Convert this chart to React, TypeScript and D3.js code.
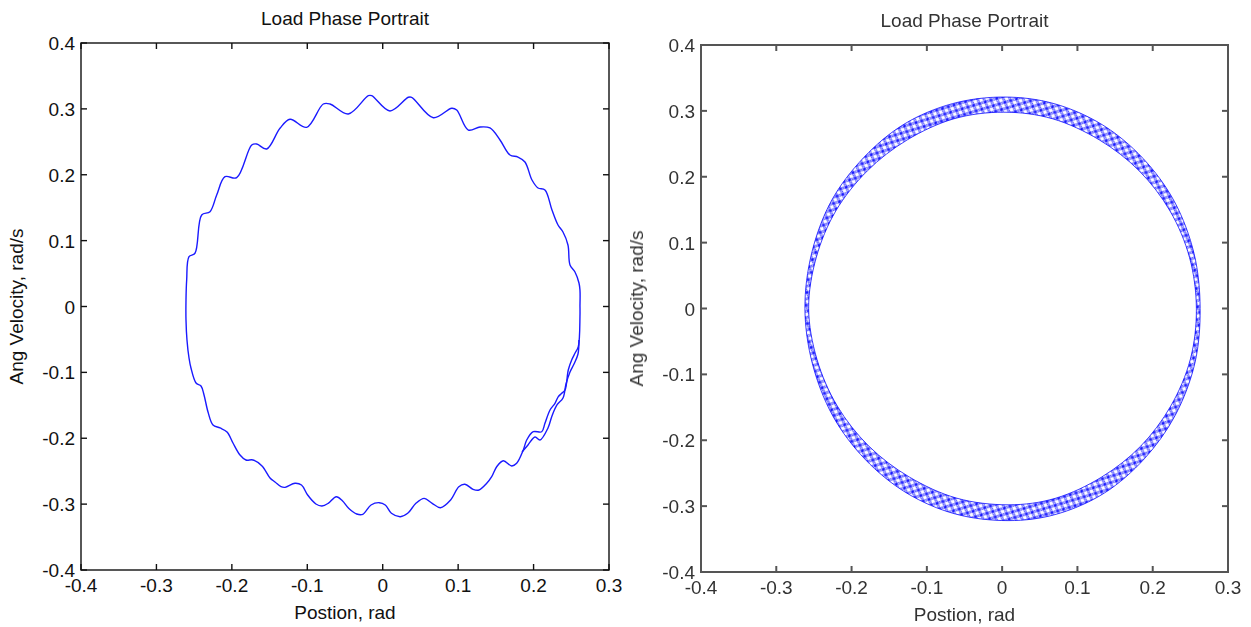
import React from "react";
import * as d3 from "d3";

// ---------- data ----------
const xTicks = [-0.4, -0.3, -0.2, -0.1, 0, 0.1, 0.2, 0.3];
const xTickLabels = ["-0.4", "-0.3", "-0.2", "-0.1", "0", "0.1", "0.2", "0.3"];
const yTicks = [-0.4, -0.3, -0.2, -0.1, 0, 0.1, 0.2, 0.3, 0.4];
const yTickLabels = ["-0.4", "-0.3", "-0.2", "-0.1", "0", "0.1", "0.2", "0.3", "0.4"];
const titleText = "Load Phase Portrait";
const xLabelText = "Postion, rad";
const yLabelText = "Ang Velocity, rad/s";

// left panel: single wiggly trajectory (position, velocity)
const leftTrace: [number, number][] = [
  [0.2615, 0.001], [0.2615, 0.025], [0.2602, 0.0357], [0.2549, 0.0524], [0.2483, 0.063],
  [0.2456, 0.0934], [0.239, 0.1131], [0.2324, 0.1237], [0.2244, 0.1465], [0.2151, 0.1769],
  [0.2059, 0.1799], [0.1979, 0.192], [0.1886, 0.2194], [0.1793, 0.2269], [0.1687, 0.23],
  [0.1555, 0.2528], [0.1422, 0.271], [0.129, 0.2725], [0.1135, 0.2679], [0.0981, 0.2983],
  [0.0915, 0.3009], [0.0671, 0.2866], [0.0384, 0.3176], [0.0339, 0.3176], [0.0096, 0.2968],
  [-0.0146, 0.32], [-0.0191, 0.32], [-0.0456, 0.2922], [-0.0699, 0.3074], [-0.0788, 0.3074],
  [-0.1008, 0.272], [-0.1229, 0.2842], [-0.1362, 0.2705], [-0.1538, 0.2391], [-0.1671, 0.2467],
  [-0.1737, 0.2452], [-0.1936, 0.1955], [-0.2091, 0.197], [-0.2201, 0.1693], [-0.229, 0.1439],
  [-0.24, 0.1389], [-0.2489, 0.0808], [-0.2568, 0.0756], [-0.2599, 0.0402], [-0.2608, 0.0099],
  [-0.2608, -0.0205], [-0.2595, -0.0509], [-0.2568, -0.0782], [-0.2542, -0.0934], [-0.2475, -0.1161],
  [-0.2409, -0.1207], [-0.2369, -0.1343], [-0.2316, -0.1602], [-0.225, -0.1799], [-0.2157, -0.1844],
  [-0.2064, -0.1905], [-0.1985, -0.2072], [-0.1892, -0.2254], [-0.1813, -0.233], [-0.172, -0.233],
  [-0.16, -0.2421], [-0.1494, -0.2603], [-0.1428, -0.2664], [-0.1348, -0.2735], [-0.1295, -0.2745],
  [-0.1163, -0.2684], [-0.1077, -0.271], [-0.0995, -0.2862], [-0.0886, -0.2998], [-0.0805, -0.3028],
  [-0.0723, -0.2988], [-0.0615, -0.2887], [-0.0535, -0.2948], [-0.0452, -0.3063], [-0.0345, -0.315],
  [-0.0264, -0.3155], [-0.0155, -0.3013], [-0.0047, -0.2978], [0.0034, -0.3013], [0.0115, -0.3139],
  [0.0234, -0.3191], [0.0331, -0.3139], [0.044, -0.2988], [0.0549, -0.2912], [0.0656, -0.2988],
  [0.0765, -0.3054], [0.09, -0.2937], [0.1009, -0.2735], [0.109, -0.2699], [0.1198, -0.2775],
  [0.1276, -0.2786], [0.1379, -0.2684], [0.1445, -0.2584], [0.1511, -0.2432], [0.1599, -0.2341],
  [0.171, -0.2421], [0.1776, -0.238], [0.1864, -0.2178], [0.1909, -0.2027], [0.1996, -0.1901],
  [0.2108, -0.1901], [0.2151, -0.1773], [0.2218, -0.1571], [0.2284, -0.1469], [0.2328, -0.1369],
  [0.2373, -0.1318], [0.2417, -0.1268], [0.246, -0.0964], [0.2505, -0.0812], [0.2549, -0.071],
  [0.2593, -0.061], [0.2615, -0.0155], [0.2615, 0.001],
];

// left panel: start-up pass overlapping the lower right arc
const leftTransient: [number, number][] = [
  [0.1847, -0.2209], [0.1926, -0.2102], [0.2019, -0.1981], [0.2085, -0.2027], [0.2191, -0.1844],
  [0.2244, -0.1662], [0.231, -0.1495], [0.239, -0.1389], [0.243, -0.1176], [0.2483, -0.0994],
  [0.2536, -0.0873], [0.2589, -0.0721], [0.2602, -0.0509],
];

// right panel: envelope of the braided band
const rightOuter: [number, number][] = [
  [0.263, 0], [0.255, 0.083], [0.229, 0.162], [0.187, 0.228], [0.133, 0.279], [0.069, 0.311],
  [0.002, 0.321], [-0.066, 0.311], [-0.13, 0.28], [-0.184, 0.229], [-0.227, 0.163], [-0.253, 0.084],
  [-0.262, 0], [-0.252, -0.084], [-0.225, -0.163], [-0.182, -0.229], [-0.127, -0.28], [-0.062, -0.312],
  [0.008, -0.322], [0.073, -0.312], [0.136, -0.28], [0.189, -0.228], [0.23, -0.162], [0.256, -0.083],
];
const rightInner: [number, number][] = [
  [0.258, 0], [0.249, 0.077], [0.223, 0.148], [0.182, 0.209], [0.129, 0.256], [0.067, 0.288],
  [0.002, 0.298], [-0.064, 0.288], [-0.126, 0.256], [-0.179, 0.209], [-0.221, 0.148], [-0.247, 0.077],
  [-0.257, 0], [-0.246, -0.077], [-0.219, -0.148], [-0.177, -0.209], [-0.123, -0.256], [-0.06, -0.288],
  [0.008, -0.298], [0.071, -0.288], [0.132, -0.256], [0.184, -0.209], [0.224, -0.148], [0.25, -0.077],
];

// ---------- layout ----------
const W = 1251;
const H = 627;
const FONT = "'Liberation Sans', Arial, Helvetica, sans-serif";
const FS = 19;

type Box = { x: number; y: number; w: number; h: number };

function Axes({ box, axisColor, textColor, axisWidth, children }: { box: Box; axisColor: string; textColor: string; axisWidth: number; children: (xs: d3.ScaleLinear<number, number>, ys: d3.ScaleLinear<number, number>) => React.ReactNode }) {
  const xs = d3.scaleLinear().domain([-0.4, 0.3]).range([box.x, box.x + box.w]);
  const ys = d3.scaleLinear().domain([-0.4, 0.4]).range([box.y + box.h, box.y]);
  const tl = 6;
  const cx = box.x + box.w / 2;
  const cy = box.y + box.h / 2;
  return (
    <g>
      <g>{children(xs, ys)}</g>
      <rect x={box.x} y={box.y} width={box.w} height={box.h} fill="none" stroke={axisColor} strokeWidth={axisWidth} />
      {xTicks.map((v, i) => (
        <g key={"xt" + i}>
          <line x1={xs(v)} x2={xs(v)} y1={box.y + box.h} y2={box.y + box.h - tl} stroke={axisColor} strokeWidth={axisWidth} />
          <line x1={xs(v)} x2={xs(v)} y1={box.y} y2={box.y + tl} stroke={axisColor} strokeWidth={axisWidth} />
          <text x={xs(v)} y={box.y + box.h + 22} textAnchor="middle" fontFamily={FONT} fontSize={FS} fill={textColor}>{xTickLabels[i]}</text>
        </g>
      ))}
      {yTicks.map((v, i) => (
        <g key={"yt" + i}>
          <line x1={box.x} x2={box.x + tl} y1={ys(v)} y2={ys(v)} stroke={axisColor} strokeWidth={axisWidth} />
          <line x1={box.x + box.w} x2={box.x + box.w - tl} y1={ys(v)} y2={ys(v)} stroke={axisColor} strokeWidth={axisWidth} />
          <text x={box.x - 6} y={ys(v) + 7} textAnchor="end" fontFamily={FONT} fontSize={FS} fill={textColor}>{yTickLabels[i]}</text>
        </g>
      ))}
      <text x={cx} y={box.y - 18} textAnchor="middle" fontFamily={FONT} fontSize={FS} fill={textColor}>{titleText}</text>
      <text x={cx} y={box.y + box.h + 49} textAnchor="middle" fontFamily={FONT} fontSize={FS} fill={textColor}>{xLabelText}</text>
      <text transform={`translate(${box.x - 58},${cy}) rotate(-90)`} textAnchor="middle" fontFamily={FONT} fontSize={FS} fill={textColor}>{yLabelText}</text>
    </g>
  );
}

export default function App() {
  const leftBox: Box = { x: 81, y: 43, w: 528, h: 527 };
  const rightBox: Box = { x: 701, y: 45, w: 527, h: 527 };

  return (
    <svg width={W} height={H} style={{ position: "absolute", left: 0, top: 0, background: "#fff" }}>
      <defs>
        <filter id="soft" x="-5%" y="-5%" width="110%" height="110%">
          <feGaussianBlur stdDeviation="0.6" />
        </filter>
        <pattern id="braid" width="9" height="8" patternUnits="userSpaceOnUse" patternTransform="rotate(25)">
          <ellipse cx="0" cy="0" rx="4.2" ry="3.4" fill="none" stroke="#0000ff" strokeWidth="0.8" />
          <ellipse cx="9" cy="0" rx="4.2" ry="3.4" fill="none" stroke="#0000ff" strokeWidth="0.8" />
          <ellipse cx="0" cy="8" rx="4.2" ry="3.4" fill="none" stroke="#0000ff" strokeWidth="0.8" />
          <ellipse cx="9" cy="8" rx="4.2" ry="3.4" fill="none" stroke="#0000ff" strokeWidth="0.8" />
          <ellipse cx="4.5" cy="4" rx="4.2" ry="3.4" fill="none" stroke="#0000ff" strokeWidth="0.8" />
        </pattern>
      </defs>
      <rect x={0} y={0} width={W} height={H} fill="#fff" />

      <Axes box={leftBox} axisColor="#111" textColor="#111" axisWidth={1.4}>
        {(xs, ys) => {
          const line = d3.line<[number, number]>().x((d) => xs(d[0])).y((d) => ys(d[1])).curve(d3.curveCatmullRom.alpha(0.5));
          return (
            <g>
              <path d={line(leftTrace) || ""} fill="none" stroke="#1a1aff" strokeWidth={1.4} strokeLinejoin="round" />
              <path d={line(leftTransient) || ""} fill="none" stroke="#1a1aff" strokeWidth={1.4} strokeLinejoin="round" />
            </g>
          );
        }}
      </Axes>

      <g filter="url(#soft)">
        <Axes box={rightBox} axisColor="#555" textColor="#333" axisWidth={2}>
          {(xs, ys) => {
            const closed = d3.line<[number, number]>().x((d) => xs(d[0])).y((d) => ys(d[1])).curve(d3.curveCardinalClosed.tension(0));
            const outer = closed(rightOuter) || "";
            const inner = closed(rightInner) || "";
            return (
              <g>
                <path d={outer + inner} fill="url(#braid)" fillRule="evenodd" stroke="none" />
                <path d={outer} fill="none" stroke="#0000ff" strokeWidth={1} strokeOpacity={0.75} />
                <path d={inner} fill="none" stroke="#0000ff" strokeWidth={1} strokeOpacity={0.75} />
              </g>
            );
          }}
        </Axes>
      </g>
    </svg>
  );
}
